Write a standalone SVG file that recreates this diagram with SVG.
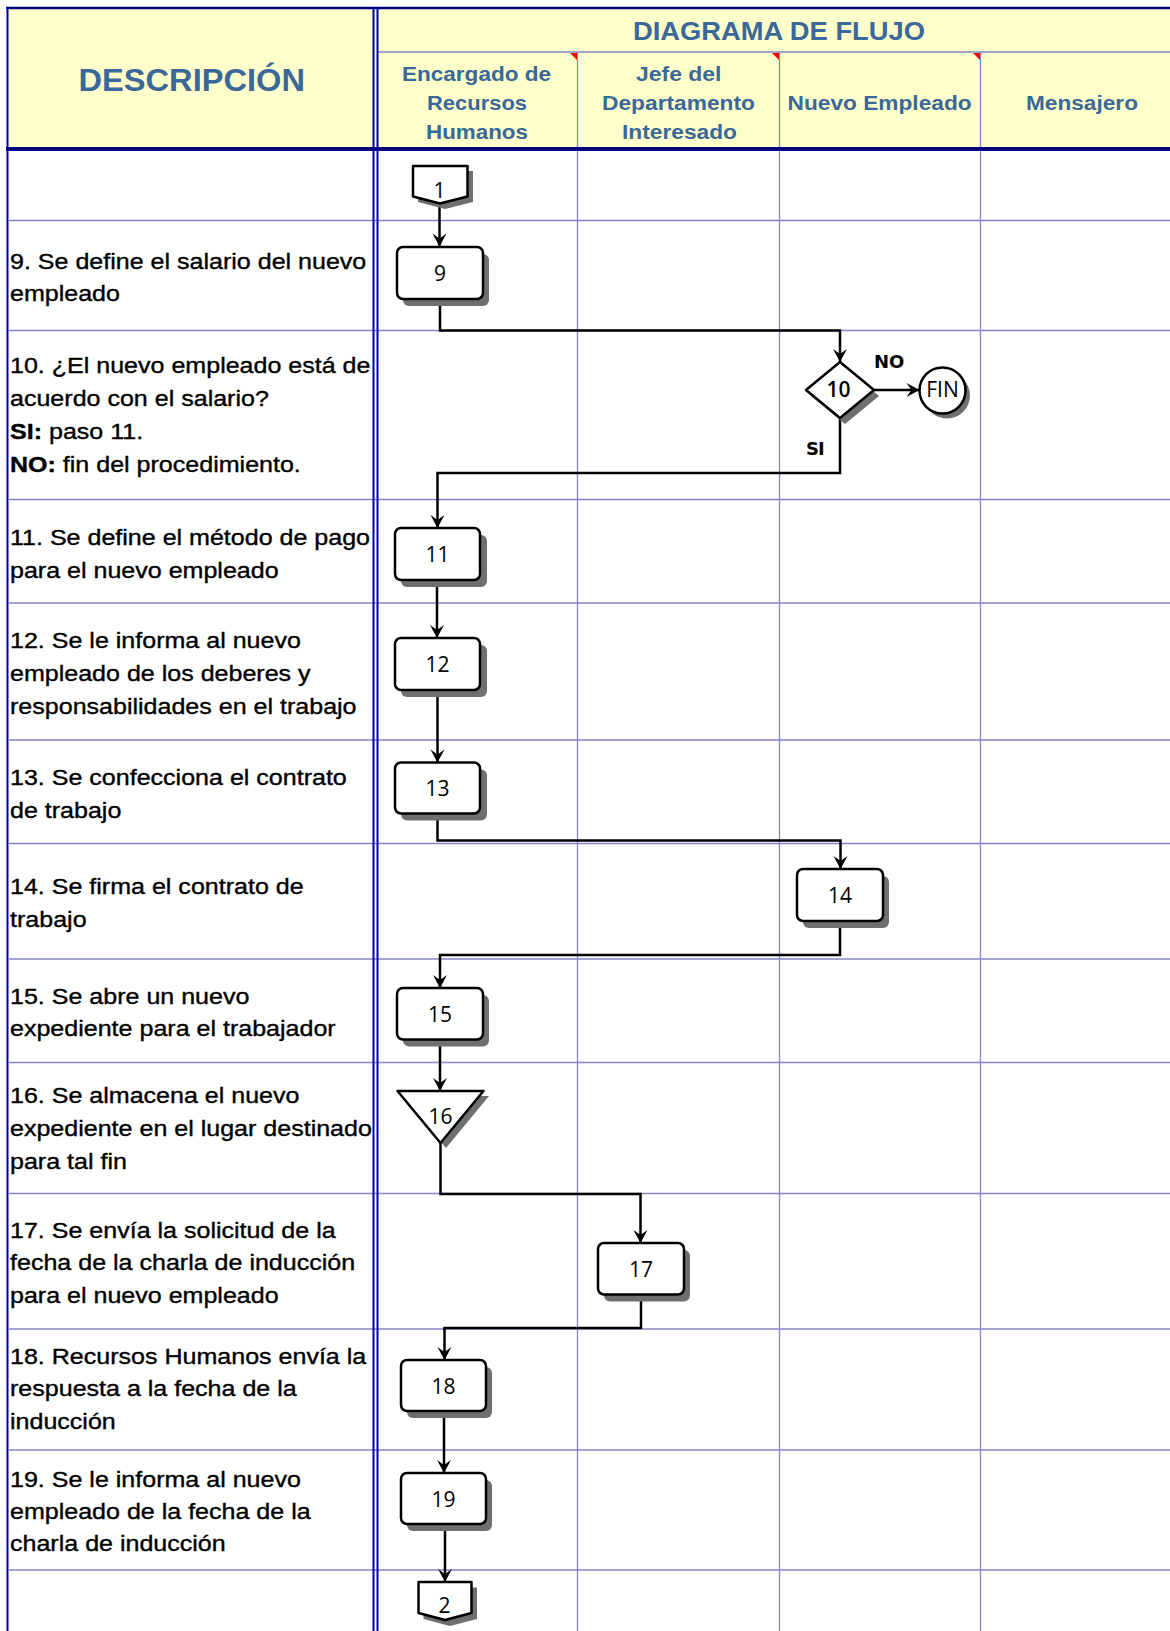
<svg xmlns="http://www.w3.org/2000/svg" width="1170" height="1631" viewBox="0 0 1170 1631">
  <style>
    .grid { stroke: #8585cc; stroke-width: 1.3; fill: none; }
    .border { stroke: #0000a8; stroke-width: 2; fill: none; }
    .navy { stroke: #000080; fill: none; }
    .hdr { font-family: "Liberation Sans", Arial, sans-serif; font-weight: bold; fill: #3a6898; }
    .lane { font-size: 20px; }
    .desc { font-family: "Liberation Sans", Arial, sans-serif; font-size: 21.5px; fill: #000; stroke: #000; stroke-width: 0.35; }
    .node { fill: #fff; stroke: #000; stroke-width: 2.5; stroke-linejoin: round; }
    .shadow { fill: #6f6f6f; }
    .num { font-family: "Open Sans", "Noto Sans", sans-serif; font-size: 21px; text-anchor: middle; fill: #000; }
    .lbl { font-family: "DejaVu Sans", sans-serif; font-weight: bold; font-size: 18px; fill: #000; }
    .conn { fill: none; stroke: #000; stroke-width: 2.5; marker-end: url(#arrow); }
    .flag { fill: #ff0000; }
  </style>
  <defs>
    <marker id="arrow" markerUnits="userSpaceOnUse" markerWidth="16" markerHeight="16" refX="13" refY="7" orient="auto" overflow="visible">
      <path d="M0,0 L13,7 L0,14 L5,7 Z" fill="#000"/>
    </marker>
  </defs>

  <rect x="0" y="0" width="1170" height="1631" fill="#fff"/>

  <!-- header band -->
  <g id="header">
    <rect x="8" y="8" width="1162" height="141" fill="#ffffcc"/>
    <line class="grid" x1="378" y1="52" x2="1170" y2="52"/>
    <line class="grid" x1="577.5" y1="52" x2="577.5" y2="149"/>
    <line class="grid" x1="779.5" y1="52" x2="779.5" y2="149"/>
    <line class="grid" x1="980.5" y1="52" x2="980.5" y2="149"/>
    <polygon class="flag" points="570,53 577,53 577,60"/>
    <polygon class="flag" points="772,53 779,53 779,60"/>
    <polygon class="flag" points="973,53 980,53 980,60"/>
    <text class="hdr" x="78.5" y="90.7" font-size="31" textLength="226.5" lengthAdjust="spacingAndGlyphs">DESCRIPCIÓN</text>
    <text class="hdr" x="633" y="39.5" font-size="25" textLength="292" lengthAdjust="spacingAndGlyphs">DIAGRAMA DE FLUJO</text>
    <text class="hdr lane" x="402" y="81" textLength="149" lengthAdjust="spacingAndGlyphs">Encargado de</text>
    <text class="hdr lane" x="427" y="110" textLength="100" lengthAdjust="spacingAndGlyphs">Recursos</text>
    <text class="hdr lane" x="426" y="138.5" textLength="102" lengthAdjust="spacingAndGlyphs">Humanos</text>
    <text class="hdr lane" x="636" y="81" textLength="85.5" lengthAdjust="spacingAndGlyphs">Jefe del</text>
    <text class="hdr lane" x="602" y="110" textLength="153" lengthAdjust="spacingAndGlyphs">Departamento</text>
    <text class="hdr lane" x="622" y="138.5" textLength="115" lengthAdjust="spacingAndGlyphs">Interesado</text>
    <text class="hdr lane" x="787.6" y="110" textLength="184" lengthAdjust="spacingAndGlyphs">Nuevo Empleado</text>
    <text class="hdr lane" x="1026" y="110" textLength="112" lengthAdjust="spacingAndGlyphs">Mensajero</text>
  </g>

  <!-- table grid -->
  <g id="grid">
    <line class="grid" x1="9" y1="220.5" x2="1170" y2="220.5"/>
    <line class="grid" x1="9" y1="330.5" x2="1170" y2="330.5"/>
    <line class="grid" x1="9" y1="499.5" x2="1170" y2="499.5"/>
    <line class="grid" x1="9" y1="603" x2="1170" y2="603"/>
    <line class="grid" x1="9" y1="740" x2="1170" y2="740"/>
    <line class="grid" x1="9" y1="843.5" x2="1170" y2="843.5"/>
    <line class="grid" x1="9" y1="959" x2="1170" y2="959"/>
    <line class="grid" x1="9" y1="1062.5" x2="1170" y2="1062.5"/>
    <line class="grid" x1="9" y1="1193.5" x2="1170" y2="1193.5"/>
    <line class="grid" x1="9" y1="1329" x2="1170" y2="1329"/>
    <line class="grid" x1="9" y1="1450" x2="1170" y2="1450"/>
    <line class="grid" x1="9" y1="1570" x2="1170" y2="1570"/>
    <line class="grid" x1="577.5" y1="151" x2="577.5" y2="1631"/>
    <line class="grid" x1="779.5" y1="151" x2="779.5" y2="1631"/>
    <line class="grid" x1="980.5" y1="151" x2="980.5" y2="1631"/>
    <line class="navy" stroke-width="2.5" x1="6" y1="8" x2="1170" y2="8"/>
    <line class="border" stroke-width="2.5" x1="7.5" y1="7" x2="7.5" y2="1631"/>
    <line class="border" stroke-width="1.8" x1="373.5" y1="7" x2="373.5" y2="1631"/>
    <line class="border" stroke-width="1.8" x1="377.5" y1="7" x2="377.5" y2="1631"/>
    <line class="navy" stroke-width="4" x1="6" y1="149" x2="1170" y2="149"/>
  </g>

  <!-- step descriptions -->
  <g id="descriptions" class="desc" transform="scale(1.165,1)">
    <text x="8.6" y="269">9. Se define el salario del nuevo</text>
    <text x="8.6" y="301.5">empleado</text>
    <text x="8.6" y="373.5">10. ¿El nuevo empleado está de</text>
    <text x="8.6" y="406.5">acuerdo con el salario?</text>
    <text x="8.6" y="439.5"><tspan font-weight="bold">SI:</tspan> paso 11.</text>
    <text x="8.6" y="472.5"><tspan font-weight="bold">NO:</tspan> fin del procedimiento.</text>
    <text x="8.6" y="545">11. Se define el método de pago</text>
    <text x="8.6" y="578">para el nuevo empleado</text>
    <text x="8.6" y="648">12. Se le informa al nuevo</text>
    <text x="8.6" y="681">empleado de los deberes y</text>
    <text x="8.6" y="714">responsabilidades en el trabajo</text>
    <text x="8.6" y="785.5">13. Se confecciona el contrato</text>
    <text x="8.6" y="818.5">de trabajo</text>
    <text x="8.6" y="894.5">14. Se firma el contrato de</text>
    <text x="8.6" y="927">trabajo</text>
    <text x="8.6" y="1004">15. Se abre un nuevo</text>
    <text x="8.6" y="1036">expediente para el trabajador</text>
    <text x="8.6" y="1103.5">16. Se almacena el nuevo</text>
    <text x="8.6" y="1136.5">expediente en el lugar destinado</text>
    <text x="8.6" y="1169">para tal fin</text>
    <text x="8.6" y="1238">17. Se envía la solicitud de la</text>
    <text x="8.6" y="1270.5">fecha de la charla de inducción</text>
    <text x="8.6" y="1303">para el nuevo empleado</text>
    <text x="8.6" y="1364">18. Recursos Humanos envía la</text>
    <text x="8.6" y="1396.5">respuesta a la fecha de la</text>
    <text x="8.6" y="1429">inducción</text>
    <text x="8.6" y="1487">19. Se le informa al nuevo</text>
    <text x="8.6" y="1519.5">empleado de la fecha de la</text>
    <text x="8.6" y="1551.5">charla de inducción</text>
  </g>

  <!-- connectors -->
  <g id="connectors">
    <path class="conn" d="M439.5,203.5 V246.5"/>
    <path class="conn" d="M440,299 V330.5 H840 V362"/>
    <path class="conn" d="M874,390 H919.5"/>
    <path class="conn" d="M840,418 V473 H437.5 V528"/>
    <path class="conn" d="M437,580 V638"/>
    <path class="conn" d="M437.5,690 V762.5"/>
    <path class="conn" d="M437.5,813.5 V840.5 H840.5 V869"/>
    <path class="conn" d="M840,921 V955 H440 V988"/>
    <path class="conn" d="M440,1039.5 V1091"/>
    <path class="conn" d="M440.5,1143 V1194 H640.5 V1243"/>
    <path class="conn" d="M641,1294.5 V1328 H444.5 V1360"/>
    <path class="conn" d="M444,1411 V1473"/>
    <path class="conn" d="M445,1524 V1582"/>
    <text class="lbl" x="874" y="368">NO</text>
    <text class="lbl" x="806" y="455" letter-spacing="-1">SI</text>
  </g>

  <!-- nodes -->
  <g id="n1">
    <polygon class="shadow" points="418,171 473,171 473,202 445,209 418,202"/>
    <polygon class="node" points="413,166 467.5,166 467.5,196.5 440,203.5 413,196.5"/>
    <text class="num" x="439.5" y="198">1</text>
  </g>
  <g id="n9">
    <rect class="shadow" x="403" y="254" width="86" height="52" rx="6"/>
    <rect class="node" x="397" y="247" width="86" height="52" rx="6"/>
    <text class="num" x="440" y="281">9</text>
  </g>
  <g id="n10">
    <polygon class="shadow" points="845,368 879,396 845,424 811,396"/>
    <polygon class="node" points="840,362 874,390 840,418 806,390"/>
    <text class="num" x="838.5" y="397" font-weight="600" font-size="20">10</text>
  </g>
  <g id="fin">
    <circle class="shadow" cx="947" cy="395.5" r="23"/>
    <circle class="node" cx="942.5" cy="390.5" r="23"/>
    <text class="num" x="942.5" y="396.5" font-size="17">FIN</text>
  </g>
  <g id="n11">
    <rect class="shadow" x="401" y="535" width="86" height="52" rx="6"/>
    <rect class="node" x="395" y="528" width="85" height="52" rx="6"/>
    <text class="num" x="437.5" y="562">11</text>
  </g>
  <g id="n12">
    <rect class="shadow" x="401" y="645" width="86" height="52" rx="6"/>
    <rect class="node" x="395" y="638" width="85" height="52" rx="6"/>
    <text class="num" x="437.5" y="672">12</text>
  </g>
  <g id="n13">
    <rect class="shadow" x="401" y="769.5" width="86" height="51" rx="6"/>
    <rect class="node" x="395" y="762.5" width="85" height="51" rx="6"/>
    <text class="num" x="437.5" y="796">13</text>
  </g>
  <g id="n14">
    <rect class="shadow" x="803" y="876" width="86" height="52" rx="6"/>
    <rect class="node" x="797" y="869" width="86" height="52" rx="6"/>
    <text class="num" x="840" y="903">14</text>
  </g>
  <g id="n15">
    <rect class="shadow" x="403" y="995" width="86" height="51.5" rx="6"/>
    <rect class="node" x="397" y="988" width="86" height="51.5" rx="6"/>
    <text class="num" x="440" y="1022">15</text>
  </g>
  <g id="n16">
    <polygon class="shadow" points="403,1096 489,1096 446,1148"/>
    <polygon class="node" points="397.5,1091 483.5,1091 440.5,1143"/>
    <text class="num" x="440.5" y="1124">16</text>
  </g>
  <g id="n17">
    <rect class="shadow" x="604" y="1250" width="86" height="51.5" rx="6"/>
    <rect class="node" x="598" y="1243" width="86" height="51.5" rx="6"/>
    <text class="num" x="641" y="1277">17</text>
  </g>
  <g id="n18">
    <rect class="shadow" x="407" y="1367" width="85" height="51" rx="6"/>
    <rect class="node" x="401" y="1360" width="85" height="51" rx="6"/>
    <text class="num" x="443.5" y="1394">18</text>
  </g>
  <g id="n19">
    <rect class="shadow" x="407" y="1480" width="85" height="51" rx="6"/>
    <rect class="node" x="401" y="1473" width="85" height="51" rx="6"/>
    <text class="num" x="443.5" y="1507">19</text>
  </g>
  <g id="n2">
    <polygon class="shadow" points="423.5,1587.5 477,1587.5 477,1619 450,1626 423.5,1619"/>
    <polygon class="node" points="418.5,1582 471.5,1582 471.5,1613 445,1620 418.5,1613"/>
    <text class="num" x="444.5" y="1613">2</text>
  </g>
</svg>
